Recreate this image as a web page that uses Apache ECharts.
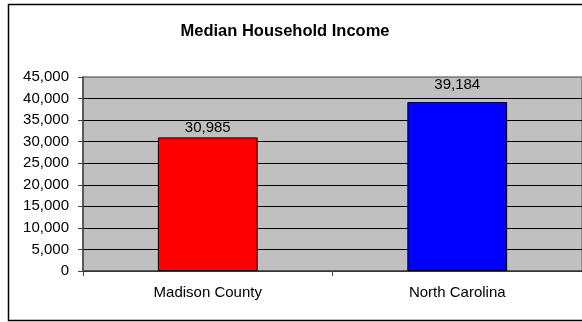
<!DOCTYPE html>
<html>
<head>
<meta charset="utf-8">
<script src="https://cdn.jsdelivr.net/npm/echarts@6/dist/echarts.min.js"></script>
<style>
  html, body { margin: 0; padding: 0; background: #fff; }
  #chart { width: 582px; height: 322px; }
</style>
</head>
<body>
<div id="chart"></div>
<script>
// Median household income by area
const categories = ['Madison County', 'North Carolina'];
const incomeValues = [30985, 39184];
const barColors = ['#ff0000', '#0000ff'];
const labelGaps = [2, 10];
const yTickStep = 5000;
const yMax = 45000;

const chart = echarts.init(document.getElementById('chart'), null, { renderer: 'canvas' });

// gridlines: black for inner lines, grey at the top edge
const gridColors = [];
for (let v = 0; v <= yMax; v += yTickStep) gridColors.push(v === yMax ? '#808080' : '#000000');

const fontFamily = '"Liberation Sans", Arial, sans-serif';

chart.setOption({
  animation: false,
  backgroundColor: '#ffffff',
  textStyle: { fontFamily: fontFamily },
  graphic: [{
    type: 'rect',
    shape: { x: 8.5, y: 4.5, width: 600, height: 316 },
    style: { fill: 'none', stroke: '#000', lineWidth: 1.5 },
    silent: true,
    z: -1
  }],
  title: {
    text: 'Median Household Income',
    left: 280,
    textAlign: 'center',
    top: 18,
    textStyle: { fontSize: 16.5, fontWeight: 'bold', color: '#000', fontFamily: fontFamily }
  },
  grid: {
    left: 83, right: 0, top: 77, bottom: 51,
    show: true,
    backgroundColor: '#c0c0c0',
    borderColor: '#808080',
    borderWidth: 1.5
  },
  xAxis: {
    type: 'category',
    data: categories,
    axisLine: { lineStyle: { color: '#444', width: 1.5 } },
    axisTick: { show: true, length: 5, lineStyle: { color: '#444' } },
    axisLabel: { color: '#000', fontSize: 15, margin: 14, fontFamily: fontFamily }
  },
  yAxis: {
    type: 'value',
    min: 0,
    max: yMax,
    interval: yTickStep,
    axisLine: { show: true, lineStyle: { color: '#444', width: 1.5 } },
    axisTick: { show: true, length: 5, lineStyle: { color: '#444' } },
    axisLabel: {
      color: '#000', fontSize: 15, margin: 14, fontFamily: fontFamily,
      formatter: v => v.toLocaleString('en-US')
    },
    splitLine: { show: true, lineStyle: { color: gridColors, width: 1 } }
  },
  series: [{
    type: 'bar',
    barWidth: '40%',
    data: incomeValues.map((v, i) => ({
      value: v,
      itemStyle: { color: barColors[i] },
      label: { distance: labelGaps[i] }
    })),
    itemStyle: { borderColor: '#000', borderWidth: 1 },
    label: {
      show: true,
      position: 'top',
      color: '#000',
      fontSize: 15,
      fontFamily: fontFamily,
      formatter: p => p.value.toLocaleString('en-US')
    }
  }]
});
</script>
</body>
</html>
